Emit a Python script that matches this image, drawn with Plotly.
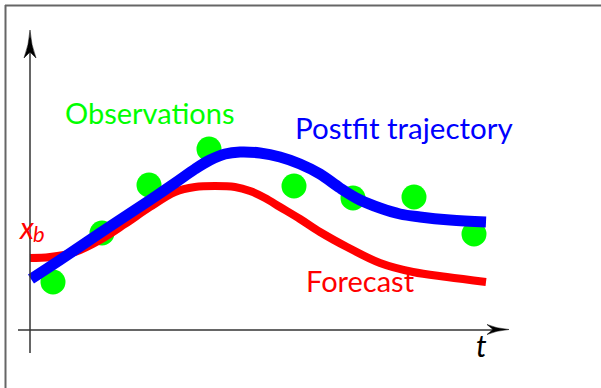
import plotly.graph_objects as go

# Data (coordinates relative to axis origin, in drawing units; y up)
obs_t = [23, 72, 119, 179, 264, 323, 384, 444]
obs_y = [48, 97, 145, 181, 144, 132, 133, 96]

fc_t = [0, 20, 45, 70, 95, 120, 145, 165, 185, 205, 220, 235, 250, 270, 290, 317, 350, 383, 417, 456]
fc_y = [72, 73, 78, 90, 106, 123, 138, 143, 144, 143, 139, 132, 123, 111, 98, 83, 67, 58, 53, 48]

pf_t = [1, 30, 70, 120, 145, 165, 180, 195, 210, 230, 250, 270, 290, 310, 330, 350, 370, 390, 420, 456]
pf_y = [51, 70, 97, 130, 147, 161, 170, 176, 178, 177, 173, 166, 156, 142, 130, 122, 116, 113, 110, 108]

labels = {"obs": "Observations", "pf": "Postfit trajectory", "fc": "Forecast", "t": "t"}

GREEN = "#00FF00"
RED = "#FF0000"
BLUE = "#0000FF"
FONT = "Lato"

fig = go.Figure()
fig.add_trace(go.Scatter(x=obs_t, y=obs_y, mode="markers",
                         marker=dict(size=25, color=GREEN, line=dict(width=0)),
                         hoverinfo="skip"))
fig.add_trace(go.Scatter(x=fc_t, y=fc_y, mode="lines",
                         line=dict(color=RED, width=8, shape="spline", smoothing=1),
                         hoverinfo="skip"))
fig.add_trace(go.Scatter(x=pf_t, y=pf_y, mode="lines",
                         line=dict(color=BLUE, width=11, shape="spline", smoothing=1),
                         hoverinfo="skip"))

shapes = []
# frame lines (top and left)
shapes.append(dict(type="line", x0=-25, x1=575, y0=324.5, y1=324.5,
                   line=dict(color="#666666", width=2)))
shapes.append(dict(type="line", x0=-24.5, x1=-24.5, y0=325, y1=-60,
                   line=dict(color="#666666", width=2)))
# axes
shapes.append(dict(type="line", x0=0, x1=0, y0=-23, y1=280,
                   line=dict(color="#333333", width=1.5)))
shapes.append(dict(type="line", x0=-12, x1=465, y0=0, y1=0,
                   line=dict(color="#333333", width=1.5)))
# arrowheads
shapes.append(dict(type="path",
                   path="M 0,300 Q 1,285 6,272 L 0,278 L -6,272 Q -1,285 0,300 Z",
                   fillcolor="black", line=dict(color="black", width=0.5)))
shapes.append(dict(type="path",
                   path="M 479,0.5 Q 466,1.5 457,5.5 L 463,0.5 L 457,-4.5 Q 466,-0.5 479,0.5 Z",
                   fillcolor="black", line=dict(color="black", width=0.5)))

annotations = [
    dict(x=120, y=218, text=labels["obs"], showarrow=False,
         font=dict(family=FONT, size=29, color=GREEN), xanchor="center", yanchor="middle"),
    dict(x=374, y=203, text=labels["pf"], showarrow=False,
         font=dict(family=FONT, size=29.5, color=BLUE), xanchor="center", yanchor="middle"),
    dict(x=330, y=50, text=labels["fc"], showarrow=False,
         font=dict(family=FONT, size=29, color=RED), xanchor="center", yanchor="middle"),
    dict(x=451, y=-15, text="<i>" + labels["t"] + "</i>", showarrow=False,
         font=dict(family=FONT, size=30, color="black"), xanchor="center", yanchor="middle"),
    dict(x=-4, y=103, text="<i>x</i>", showarrow=False,
         font=dict(family=FONT, size=30, color=RED), xanchor="center", yanchor="middle"),
    dict(x=9, y=97, text="<i>b</i>", showarrow=False,
         font=dict(family=FONT, size=22, color=RED), xanchor="center", yanchor="middle"),
]

fig.update_layout(
    width=601, height=388,
    margin=dict(l=0, r=0, t=0, b=0),
    paper_bgcolor="white", plot_bgcolor="white",
    showlegend=False,
    xaxis=dict(range=[-30, 571], visible=False, fixedrange=True),
    yaxis=dict(range=[-58, 330], visible=False, fixedrange=True),
    shapes=shapes,
    annotations=annotations,
)

fig.write_html("out.html", config={"displayModeBar": False},
               post_script="document.body.style.margin='0';document.body.style.overflow='hidden';")
